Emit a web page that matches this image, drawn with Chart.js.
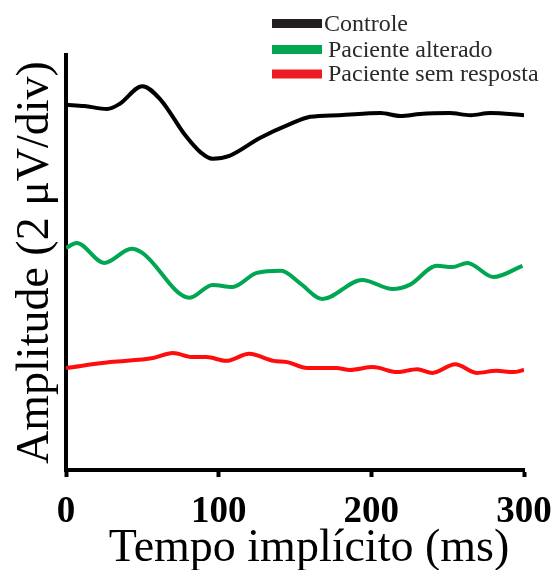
<!DOCTYPE html>
<html>
<head>
<meta charset="utf-8">
<script src="https://cdn.jsdelivr.net/npm/chart.js@4/dist/chart.umd.min.js"></script>
<style>
  html, body { margin: 0; padding: 0; background: #fff; }
  #wrap { width: 553px; height: 570px; }
</style>
</head>
<body>
<div id="wrap"><canvas id="grafico"></canvas></div>
<script>
// dados (x em ms, amplitude em unidades arbitrárias)
var controleX = [0, 12, 27, 35, 50, 62, 78, 88, 96, 107, 127, 147, 160, 179, 206, 219, 232, 251, 265, 278, 300];
var controleY = [88.0, 87.7, 87.0, 88.2, 92.5, 89.2, 80.7, 76.6, 75.0, 75.7, 80.0, 83.4, 85.1, 85.5, 86.0, 85.3, 85.8, 86.0, 85.5, 86.0, 85.5];

var alteradoX = [0, 7, 25, 43, 50, 81, 96, 109, 125, 141, 153, 168, 194, 214, 225, 243, 253, 263, 280, 299];
var alteradoY = [53.5, 54.7, 49.9, 53.3, 52.3, 41.5, 44.6, 44.1, 47.5, 48.0, 45.1, 41.2, 45.8, 43.6, 44.6, 49.2, 48.9, 49.9, 46.5, 49.2];

var semRespX = [0, 29, 57, 70, 83, 92, 105, 120, 136, 145, 158, 177, 186, 201, 217, 230, 240, 255, 269, 282, 293, 300];
var semRespY = [24.6, 26.0, 27.0, 28.2, 27.2, 27.2, 26.3, 28.0, 26.3, 26.0, 24.6, 24.6, 24.1, 24.8, 23.6, 24.3, 23.4, 25.5, 23.4, 23.9, 23.6, 24.1];

var nomes = ['Controle', 'Paciente alterado', 'Paciente sem resposta'];
var coresLinha = ['#000000', '#00a651', '#ff0d0d'];
var coresLegenda = ['#231f20', '#00a651', '#ed1c24'];
var ticksX = [0, 100, 200, 300];
var tituloX = 'Tempo implícito (ms)';
var tituloY = 'Amplitude (2 μV/div)';

function pontos(xs, ys) {
	var out = [];
	for (var i = 0; i < xs.length; i++) out.push({x: xs[i], y: ys[i]});
	return out;
}

function serie(i, xs, ys) {
	return {
		label: nomes[i],
		data: pontos(xs, ys),
		borderColor: coresLinha[i],
		borderWidth: 4,
		pointRadius: 0,
		tension: 0.4,
		cubicInterpolationMode: 'monotone',
		legendColor: coresLegenda[i]
	};
}

// legenda e título do eixo x desenhados à mão
var legendaPlugin = {
	id: 'legendaPlugin',
	afterDraw: function(chart) {
		var ctx = chart.ctx;
		var linhas = [23.5, 49.5, 74];
		ctx.save();
		ctx.font = '24px "Liberation Serif", "DejaVu Serif", serif';
		ctx.textBaseline = 'middle';
		chart.data.datasets.forEach(function(ds, i) {
			ctx.fillStyle = ds.legendColor;
			ctx.fillRect(272, linhas[i] - 4.5, 50, 9);
			ctx.fillStyle = '#2a2a2a';
			ctx.fillText(ds.label, i == 0 ? 324 : 328, linhas[i] + 1);
		});
		// título do eixo x, um pouco deslocado para a direita como no original
		ctx.font = '46px "Liberation Serif", serif';
		ctx.fillStyle = '#000';
		ctx.textAlign = 'center';
		ctx.textBaseline = 'alphabetic';
		ctx.fillText(tituloX, 309, 561);
		ctx.restore();
	}
};

var ctx = document.getElementById('grafico');
var myChart = new Chart(ctx,
{
	type: 'line',
	data:
	{
		datasets: [
			serie(0, controleX, controleY),
			serie(1, alteradoX, alteradoY),
			serie(2, semRespX, semRespY)
		]
	},
	options:
	{
		responsive: true,
		maintainAspectRatio: false,
		animation: false,
		layout: { padding: { top: 55, right: 29, left: 0, bottom: 0 } },
		plugins: {
			legend: { display: false },
			tooltip: { enabled: false }
		},
		scales:
		{
			x:
			{
				type: 'linear',
				min: 0,
				max: 300,
				afterBuildTicks: function(scale) {
					scale.ticks = ticksX.map(function(v) { return {value: v}; });
				},
				afterFit: function(scale) {
					scale.height = 100;
					scale.paddingLeft = 0;
					scale.paddingRight = 0;
				},
				grid: {
					drawOnChartArea: false,
					drawTicks: true,
					tickLength: 7,
					tickWidth: 4,
					color: '#000'
				},
				border: { display: true, color: '#000', width: 4 },
				ticks: {
					color: '#000',
					padding: 13,
					maxRotation: 0,
					font: { family: '"Liberation Serif", serif', size: 37, weight: 'bold' }
				},
				title: { display: false }
			},
			y:
			{
				min: 0,
				max: 100,
				afterFit: function(scale) { scale.width = 66; },
				grid: { display: false },
				border: { display: true, color: '#000', width: 4 },
				ticks: { display: false },
				title: {
					display: true,
					text: tituloY,
					color: '#000',
					padding: { top: 13, bottom: 0 },
					font: { family: '"Liberation Serif", serif', size: 46, lineHeight: 1 }
				}
			}
		}
	},
	plugins: [legendaPlugin]
});
</script>
</body>
</html>
